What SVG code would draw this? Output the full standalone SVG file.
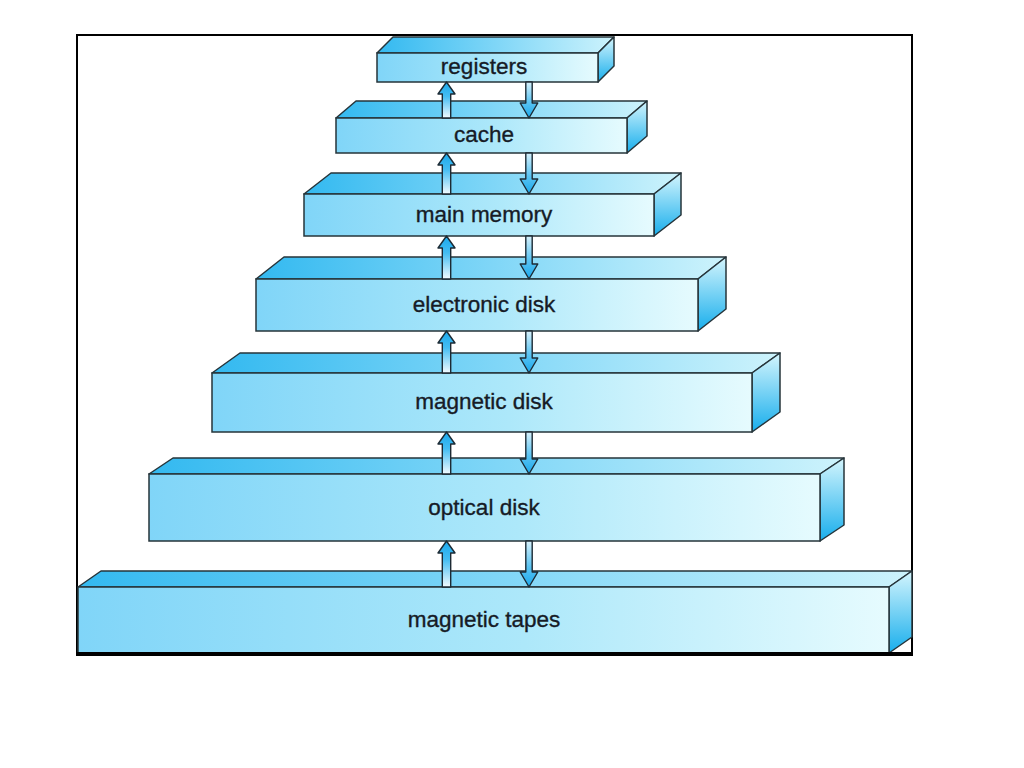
<svg xmlns="http://www.w3.org/2000/svg" width="1024" height="768" viewBox="0 0 1024 768">
<style>
.front{fill:url(#gFront);stroke:#26343a;stroke-width:1.5}
.top{fill:url(#gTop);stroke:#26343a;stroke-width:1.5;stroke-linejoin:round}
.side{fill:url(#gSide);stroke:#26343a;stroke-width:1.5;stroke-linejoin:round}
.lbl{font-family:"Liberation Sans",Arial,sans-serif;font-size:22.5px;fill:#161b26;stroke:#161b26;stroke-width:0.35;text-anchor:middle}
.up{fill:url(#gUp);stroke:#1c2a34;stroke-width:1.4;stroke-linejoin:round}
.down{fill:url(#gDown);stroke:#1c2a34;stroke-width:1.4;stroke-linejoin:round}
</style>
<defs>
<linearGradient id="gFront" x1="0" y1="0" x2="1" y2="0">
<stop offset="0" stop-color="#80d5f8"/>
<stop offset="0.55" stop-color="#ade8fa"/>
<stop offset="1" stop-color="#e6fbfe"/>
</linearGradient>
<linearGradient id="gTop" x1="0" y1="0" x2="1" y2="0">
<stop offset="0" stop-color="#33b9f0"/>
<stop offset="0.5" stop-color="#7fd6f7"/>
<stop offset="1" stop-color="#cdf3fc"/>
</linearGradient>
<linearGradient id="gSide" x1="0" y1="0" x2="0" y2="1">
<stop offset="0" stop-color="#d4f5fd"/>
<stop offset="1" stop-color="#18aeec"/>
</linearGradient>
<linearGradient id="gUp" x1="0" y1="0" x2="0" y2="1">
<stop offset="0" stop-color="#1aa8ec"/>
<stop offset="0.4" stop-color="#45bdf2"/>
<stop offset="1" stop-color="#f2fbff"/>
</linearGradient>
<linearGradient id="gDown" x1="0" y1="0" x2="0" y2="1">
<stop offset="0" stop-color="#d8f1fb"/>
<stop offset="0.55" stop-color="#5cc4f2"/>
<stop offset="1" stop-color="#1aa8ec"/>
</linearGradient>
</defs>
<rect x="0" y="0" width="1024" height="768" fill="#ffffff"/>
<rect x="77" y="35" width="835" height="619" fill="none" stroke="#000" stroke-width="2"/>

<g id="registers">
<polygon class="top" points="377,53 393,37 614,37 598,53"/>
<polygon class="side" points="598,53 614,37 614,66 598,82"/>
<rect class="front" x="377" y="53" width="221" height="29"/>
<text class="lbl" x="484" y="74">registers</text>
</g>
<g id="cache">
<polygon class="top" points="336,118 356,101 647,101 627,118"/>
<polygon class="side" points="627,118 647,101 647,136 627,153"/>
<rect class="front" x="336" y="118" width="291" height="35"/>
<text class="lbl" x="484" y="142">cache</text>
</g>
<g id="main-memory">
<polygon class="top" points="304,194 331,173 681,173 654,194"/>
<polygon class="side" points="654,194 681,173 681,215 654,236"/>
<rect class="front" x="304" y="194" width="350" height="42"/>
<text class="lbl" x="484" y="222">main memory</text>
</g>
<g id="electronic-disk">
<polygon class="top" points="256,279 284,257 726,257 698,279"/>
<polygon class="side" points="698,279 726,257 726,309 698,331"/>
<rect class="front" x="256" y="279" width="442" height="52"/>
<text class="lbl" x="484" y="312">electronic disk</text>
</g>
<g id="magnetic-disk">
<polygon class="top" points="212,373 240,353 780,353 752,373"/>
<polygon class="side" points="752,373 780,353 780,412 752,432"/>
<rect class="front" x="212" y="373" width="540" height="59"/>
<text class="lbl" x="484" y="409">magnetic disk</text>
</g>
<g id="optical-disk">
<polygon class="top" points="149,474 173,458 844,458 820,474"/>
<polygon class="side" points="820,474 844,458 844,525 820,541"/>
<rect class="front" x="149" y="474" width="671" height="67"/>
<text class="lbl" x="484" y="515">optical disk</text>
</g>
<g id="magnetic-tapes">
<polygon class="top" points="78,587 101,571 912,571 889,587"/>
<polygon class="side" points="889,587 912,571 912,637 889,653"/>
<rect class="front" x="78" y="587" width="811" height="66"/>
<text class="lbl" x="484" y="627">magnetic tapes</text>
</g>

<line x1="76" y1="654" x2="913" y2="654" stroke="#000" stroke-width="4"/>

<g id="connectors">
<path class="up" d="M442.3,118 L442.3,94 L438,94 L446.5,82 L455,94 L450.7,94 L450.7,118 Z"/>
<path class="down" d="M525.8,82 L525.8,103 L520.2,103 L529,118 L537.8,103 L532.2,103 L532.2,82 Z"/>
<path class="up" d="M442.3,194 L442.3,165 L438,165 L446.5,153 L455,165 L450.7,165 L450.7,194 Z"/>
<path class="down" d="M525.8,153 L525.8,179 L520.2,179 L529,194 L537.8,179 L532.2,179 L532.2,153 Z"/>
<path class="up" d="M442.3,279 L442.3,248 L438,248 L446.5,236 L455,248 L450.7,248 L450.7,279 Z"/>
<path class="down" d="M525.8,236 L525.8,264 L520.2,264 L529,279 L537.8,264 L532.2,264 L532.2,236 Z"/>
<path class="up" d="M442.3,373 L442.3,343 L438,343 L446.5,331 L455,343 L450.7,343 L450.7,373 Z"/>
<path class="down" d="M525.8,331 L525.8,358 L520.2,358 L529,373 L537.8,358 L532.2,358 L532.2,331 Z"/>
<path class="up" d="M442.3,474 L442.3,444 L438,444 L446.5,432 L455,444 L450.7,444 L450.7,474 Z"/>
<path class="down" d="M525.8,432 L525.8,459 L520.2,459 L529,474 L537.8,459 L532.2,459 L532.2,432 Z"/>
<path class="up" d="M442.3,587 L442.3,553 L438,553 L446.5,541 L455,553 L450.7,553 L450.7,587 Z"/>
<path class="down" d="M525.8,541 L525.8,572 L520.2,572 L529,587 L537.8,572 L532.2,572 L532.2,541 Z"/>
</g>
</svg>
